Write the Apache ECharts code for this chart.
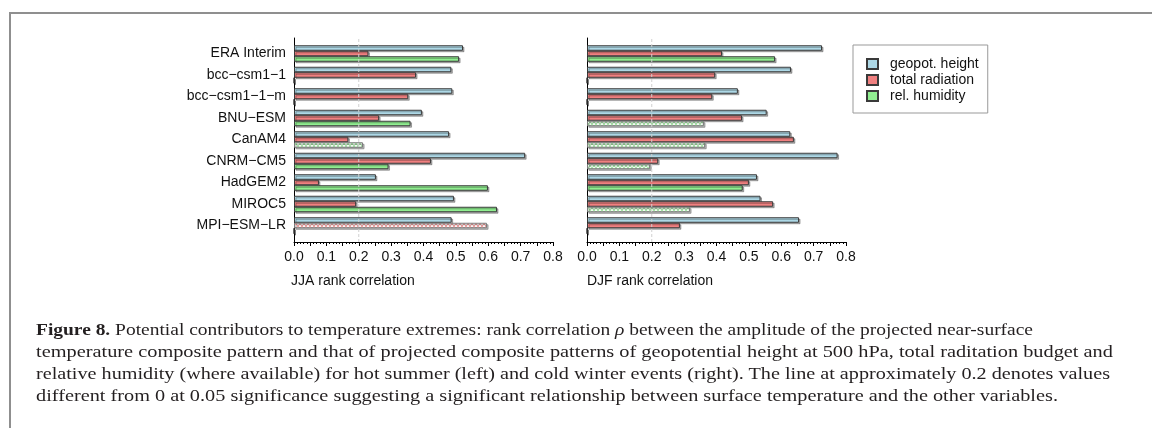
<!DOCTYPE html>
<html><head><meta charset="utf-8">
<script src="https://cdn.jsdelivr.net/npm/echarts@6/dist/echarts.min.js"></script>
<style>
html,body{margin:0;padding:0;background:#fff;}
#wrap{position:relative;width:1152px;height:428px;overflow:hidden;background:#fff;}
#chart{position:absolute;left:0;top:0;width:1152px;height:428px;}
#frame{position:absolute;left:9px;top:12px;width:1200px;height:500px;border-left:2px solid #8f8f8f;border-top:2px solid #8f8f8f;}
#caption{position:absolute;left:36px;top:318px;font-family:'Liberation Serif',serif;font-size:17.5px;line-height:22px;color:#231f20;}
#caption div{white-space:nowrap;transform-origin:0 0;}
</style></head>
<body>
<div id="wrap">
<div id="frame"></div>
<div id="chart"></div>
<div id="caption">
<div data-w="997"><b>Figure 8.</b> Potential contributors to temperature extremes: rank correlation <i>ρ</i> between the amplitude of the projected near-surface</div>
<div data-w="1077">temperature composite pattern and that of projected composite patterns of geopotential height at 500 hPa, total raditation budget and</div>
<div data-w="1074">relative humidity (where available) for hot summer (left) and cold winter events (right). The line at approximately 0.2 denotes values</div>
<div data-w="1022">different from 0 at 0.05 significance suggesting a significant relationship between surface temperature and the other variables.</div>
</div>
</div>
<script>
// ---- data ----
const models = ['ERA Interim','bcc−csm1−1','bcc−csm1−1−m','BNU−ESM','CanAM4','CNRM−CM5','HadGEM2','MIROC5','MPI−ESM−LR'];
const seriesNames = ['geopot. height','total radiation','rel. humidity'];
const xTicks = ['0.0','0.1','0.2','0.3','0.4','0.5','0.6','0.7','0.8'];
const significanceLine = 0.2;

const jjaGeo = [0.522,0.486,0.489,0.395,0.479,0.714,0.253,0.494,0.487];
const jjaRad = [0.230,0.377,0.353,0.263,0.168,0.423,0.077,0.192,0.596];
const jjaHum = [0.510,0,0,0.360,0.213,0.292,0.599,0.627,0];
const jjaGeoHatched = [0,0,0,0,0,0,0,0,0];
const jjaRadHatched = [0,0,0,0,0,0,0,0,1];
const jjaHumHatched = [0,0,0,0,1,0,0,0,0];

const djfGeo = [0.726,0.630,0.466,0.555,0.628,0.774,0.525,0.536,0.655];
const djfRad = [0.417,0.396,0.387,0.479,0.639,0.220,0.500,0.575,0.287];
const djfHum = [0.581,0,0,0.361,0.365,0.195,0.481,0.318,0];
const djfGeoHatched = [0,0,0,0,0,0,0,0,0];
const djfRadHatched = [0,0,0,0,0,0,0,0,0];
const djfHumHatched = [0,0,0,1,1,1,0,1,0];

// ---- styles ----
const FONT = "'Liberation Sans', Arial, sans-serif";
const colors = ['#add8e6','#f08080','#90ee90'];
const paleColors = ['#f4fafc','#fdf3f3','#f3fcf3'];
const hatchColors = ['#b9dce8','#f2a3a3','#a9e8a9'];

function hatchPattern(bg, fg){
  const c = document.createElement('canvas');
  c.width = 4; c.height = 4;
  const g = c.getContext('2d');
  g.fillStyle = bg; g.fillRect(0,0,4,4);
  g.fillStyle = fg;
  for (let i=0;i<4;i++){ g.fillRect(i,i,1,1); g.fillRect(3-i,i,1,1); }
  return {image:c, repeat:'repeat'};
}

function mkBar(idx, vals, flags, ai){
  const pat = hatchPattern(paleColors[idx], hatchColors[idx]);
  return {
    type:'bar', name:seriesNames[idx], xAxisIndex:ai, yAxisIndex:ai,
    barWidth:5.5, barGap:'0%',
    itemStyle:{color:colors[idx], borderColor:'#3a3a3a', borderWidth:1,
      shadowColor:'rgba(0,0,0,0.3)', shadowOffsetX:1.5, shadowOffsetY:1.5, shadowBlur:0},
    data: vals.map((v,i)=> flags[i] ? {value:v, itemStyle:{color:pat, borderColor:'#7a7a7a'}} : v)
  };
}
function barX(gi){ return {gridIndex:gi, type:'value', min:0, max:0.8, show:false}; }
function frameX(gi){
  return {gridIndex:gi, type:'value', min:0, max:0.8, interval:0.05,
    axisLine:{show:true, lineStyle:{color:'#000', width:1}},
    axisTick:{show:true, length:4, lineStyle:{color:'#000'}},
    minorTick:{show:true, splitNumber:5, length:2, lineStyle:{color:'#000'}},
    splitLine:{show:false}, minorSplitLine:{show:false},
    axisLabel:{margin:8, fontSize:14, fontFamily:FONT, color:'#111',
      formatter:(v)=>{ const k=Math.round(v*20); return k%2===0 ? xTicks[k/2] : ''; }}
  };
}
function frameY(gi){
  return {gridIndex:gi, type:'value', min:0, max:1, axisLine:{show:true, lineStyle:{color:'#000',width:1}},
    axisTick:{show:false}, axisLabel:{show:false}, splitLine:{show:false}};
}
function catY(gi, showLabels){
  return {gridIndex:gi, type:'category', inverse:true, data:models,
    axisLine:{show:false}, axisTick:{show:false},
    axisLabel:{show:showLabels, margin:8, fontSize:14, fontFamily:FONT, color:'#111'}};
}
function sigLine(ai){
  return {type:'line', xAxisIndex:ai, yAxisIndex:ai, data:[[significanceLine,0],[significanceLine,1]],
    symbol:'none', silent:true, z:5, lineStyle:{color:'#d0d0d0', width:1, type:[3,2]}};
}

const option = {
  animation:false,
  title:[
    {text:'JJA rank correlation', left:291, top:274, padding:0, textStyle:{fontSize:14, fontWeight:'normal', fontFamily:FONT, color:'#111'}},
    {text:'DJF rank correlation', left:587, top:274, padding:0, textStyle:{fontSize:14, fontWeight:'normal', fontFamily:FONT, color:'#111'}}
  ],
  legend:{left:853, top:45, orient:'vertical', data:seriesNames, icon:'rect',
    itemWidth:11, itemHeight:10, itemGap:2, borderColor:'#999', borderWidth:1, padding:[12,9,10,13],
    textStyle:{fontSize:14, fontFamily:FONT, color:'#111', padding:[0,0,0,7]}},
  grid:[
    {left:294, top:42.75, width:259, height:193.5},
    {left:294, top:38, width:259, height:204},
    {left:587, top:42.75, width:259, height:193.5},
    {left:587, top:38, width:259, height:204}
  ],
  xAxis:[barX(0), frameX(1), barX(2), frameX(3)],
  yAxis:[catY(0,true), frameY(1), catY(2,false), frameY(3)],
  series:[
    mkBar(0, jjaGeo, jjaGeoHatched, 0),
    mkBar(1, jjaRad, jjaRadHatched, 0),
    mkBar(2, jjaHum, jjaHumHatched, 0),
    mkBar(0, djfGeo, djfGeoHatched, 2),
    mkBar(1, djfRad, djfRadHatched, 2),
    mkBar(2, djfHum, djfHumHatched, 2),
    sigLine(1), sigLine(3)
  ]
};
const chart = echarts.init(document.getElementById('chart'), null, {renderer:'canvas'});
chart.setOption(option);

// fit caption lines to the reference line widths
document.querySelectorAll('#caption div').forEach(d=>{
  d.style.display='inline-block';
  const w = d.getBoundingClientRect().width;
  const target = +d.dataset.w;
  d.style.display='block';
  d.style.transform = 'scaleX(' + (target / w).toFixed(4) + ')';
});
</script>
</body></html>
